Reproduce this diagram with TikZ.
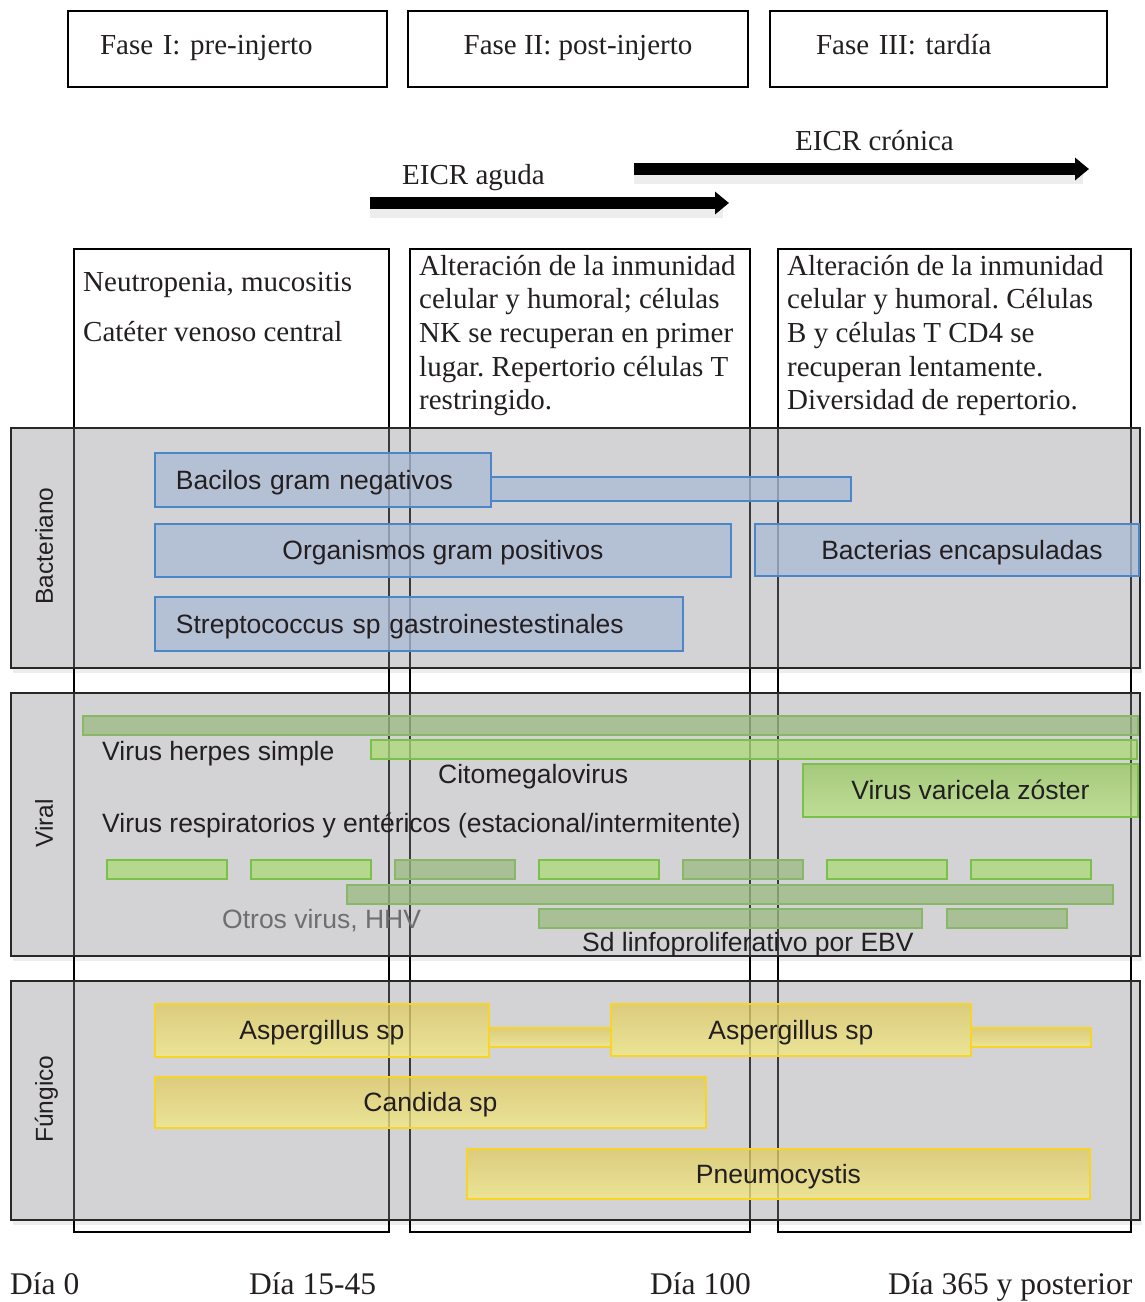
\documentclass[tikz,border=0pt]{standalone}
\usepackage{fontspec}
\setmainfont{Liberation Serif}
\setsansfont{Liberation Sans}
\frenchspacing
\usetikzlibrary{arrows.meta}
\definecolor{txt}{RGB}{35,31,32}
\definecolor{greytxt}{RGB}{110,110,113}
\definecolor{panelfill}{RGB}{145,145,152}
\definecolor{panelline}{RGB}{40,40,40}
\definecolor{bluefill}{RGB}{170,187,213}
\definecolor{bluebd}{RGB}{74,134,200}
\definecolor{greenfill}{RGB}{172,218,119}
\definecolor{greentop}{RGB}{151,199,94}
\definecolor{greenbot}{RGB}{183,226,129}
\definecolor{greenbd}{RGB}{122,193,72}
\definecolor{olivefill}{RGB}{156,185,129}
\definecolor{olivebd}{RGB}{136,183,104}
\definecolor{yeltop}{RGB}{223,202,97}
\definecolor{yelbot}{RGB}{244,234,129}
\definecolor{yelbd}{RGB}{246,212,40}
\newcommand\fser{\fontsize{29}{33.7}\selectfont}
\newcommand\fday{\fontsize{31.5}{36}\selectfont}
\newcommand\fsan{\sffamily\fontsize{26.5}{30}\selectfont}
\newcommand\frot{\sffamily\fontsize{24.5}{28}\selectfont}
\tikzset{
  phasebox/.style={draw=black, line width=2pt, anchor=north west, minimum height=76pt,
    font=\fser, text=txt, text height=19pt, text depth=9pt},
  colbox/.style={draw=black, line width=2pt, anchor=north west, minimum height=983pt, inner sep=0pt},
  panel/.style={draw=panelline, line width=2pt, fill=panelfill, fill opacity=0.4,
    anchor=north west, inner sep=0pt, minimum width=1129pt},
  panelshadow/.style={fill=black, opacity=0.07},
  rotlabel/.style={rotate=90, font=\frot, text=txt, inner sep=0pt, text height=17.5pt, text depth=0pt},
  bar/.style={anchor=north west, inner sep=0pt, line width=1.9pt, fill opacity=0.75,
    text opacity=1, font=\fsan, text=txt, text height=19pt, text depth=0pt},
  bluebar/.style={bar, draw=bluebd, fill=bluefill},
  greenbar/.style={bar, draw=greenbd, fill=greenfill},
  greengrad/.style={bar, draw=greenbd, top color=greentop, bottom color=greenbot},
  olivebar/.style={bar, draw=olivebd, fill=olivefill},
  yelbar/.style={bar, draw=yelbd, top color=yeltop, bottom color=yelbot},
  freetxt/.style={anchor=base west, inner sep=0pt, font=\fsan, text=txt},
  sertxt/.style={anchor=base west, inner sep=0pt, font=\fser, text=txt},
  daytxt/.style={anchor=base west, inner sep=0pt, font=\fday, text=txt},
  eicrarrow/.style={line width=12pt, black, -{Triangle[length=14pt,width=22pt]}},
  eicrshadow/.style={line width=16pt, black, opacity=0.07}
}
\begin{document}
\begin{tikzpicture}[x=1pt,y=-1pt]
\useasboundingbox (0,0) rectangle (1145,1302);

% phase headers
\node[phasebox, minimum width=319pt, inner xsep=32pt, text width=255pt, align=left] (p1) at (67,10) {Fase I: pre-injerto};
\node[phasebox, minimum width=340pt, align=center] (p2) at (407,10) {Fase II: post-injerto};
\node[phasebox, minimum width=337pt, inner xsep=46pt, text width=245pt, align=left] (p3) at (769,10) {Fase III: tardía};

% EICR arrows
\coordinate (a1s) at (370,203);
\coordinate (a1e) at (729,203);
\coordinate (a2s) at (634,169);
\coordinate (a2e) at (1089,169);
\draw[eicrshadow] ([yshift=-7pt]a1s) -- ([yshift=-7pt,xshift=-6pt]a1e);
\draw[eicrshadow] ([yshift=-7pt]a2s) -- ([yshift=-7pt,xshift=-6pt]a2e);
\draw[eicrarrow] (a1s) -- (a1e);
\draw[eicrarrow] (a2s) -- (a2e);
\node[sertxt] (eicra) at (402,184) {EICR aguda};
\node[sertxt] (eicrc) at (795,150) {EICR crónica};

% phase columns
\node[colbox, minimum width=315pt] (c1) at (73,248) {};
\node[colbox, minimum width=340pt] (c2) at (409,248) {};
\node[colbox, minimum width=353pt] (c3) at (777,248) {};
\node[sertxt] (t1) at (83,291.5) {\parbox[t]{300pt}{\fser Neutropenia, mucositis\\[16.3pt]Catéter venoso central}};
\node[sertxt] (t2) at (419,275) {\parbox[t]{330pt}{\fser Alteración de la inmunidad\\celular y humoral; células\\NK se recuperan en primer\\lugar. Repertorio células T\\restringido.}};
\node[sertxt] (t3) at (787,275) {\parbox[t]{345pt}{\fser Alteración de la inmunidad\\celular y humoral. Células\\B y células T CD4 se\\recuperan lentamente.\\Diversidad de repertorio.}};

% soft shadows under the category panels
\fill[panelshadow] (13,668) rectangle (1142,673);
\fill[panelshadow] (13,956) rectangle (1142,961);
\fill[panelshadow] (13,1220) rectangle (1142,1225);

% category panels
\node[panel, minimum height=240pt] (pb) at (10,427) {};
\node[panel, minimum height=263pt] (pv) at (10,692) {};
\node[panel, minimum height=239pt] (pf) at (10,980) {};
\node[rotlabel] (lb) at (44,546) {Bacteriano};
\node[rotlabel] (lv) at (44,823.5) {Viral};
\node[rotlabel] (lf) at (44,1099) {Fúngico};

% bacterial bars
\node[bluebar, minimum width=360pt, minimum height=24pt] (bgnx) at (490,476) {};
\node[bluebar, minimum width=336pt, minimum height=54pt, inner xsep=21pt, text width=294pt, align=left] (bgn) at (154,452) {Bacilos gram negativos};
\node[bluebar, minimum width=576pt, minimum height=53pt] (bgp) at (154,523) {Organismos gram positivos};
\node[bluebar, minimum width=384pt, minimum height=52pt] (benc) at (754,523) {\hspace*{30pt}Bacterias encapsuladas};
\node[bluebar, minimum width=528pt, minimum height=54pt, inner xsep=21pt, text width=486pt, align=left] (bstr) at (154,596) {Streptococcus sp gastroinestestinales};

% viral bars
\node[olivebar, minimum width=1055pt, minimum height=17pt] (vhsv) at (82,715) {};
\node[greenbar, minimum width=766pt, minimum height=16pt] (vcmv) at (370,739) {};
\node[greengrad, minimum width=335pt, minimum height=53pt] (vvzv) at (802,763) {Virus varicela zóster};
\node[greenbar, minimum width=120pt, minimum height=14pt] (d1) at (106,859) {};
\node[greenbar, minimum width=120pt, minimum height=14pt] (d2) at (250,859) {};
\node[olivebar, minimum width=120pt, minimum height=14pt] (d3) at (394,859) {};
\node[greenbar, minimum width=120pt, minimum height=14pt] (d4) at (538,859) {};
\node[olivebar, minimum width=120pt, minimum height=14pt] (d5) at (682,859) {};
\node[greenbar, minimum width=120pt, minimum height=14pt] (d6) at (826,859) {};
\node[greenbar, minimum width=120pt, minimum height=14pt] (d7) at (970,859) {};
\node[olivebar, minimum width=766pt, minimum height=13pt] (vhhv) at (346,884) {};
\node[olivebar, minimum width=383pt, minimum height=13pt] (vebv1) at (538,908) {};
\node[olivebar, minimum width=120pt, minimum height=13pt] (vebv2) at (946,908) {};
\node[freetxt] (thsv) at (102,760) {Virus herpes simple};
\node[freetxt] (tcmv) at (438,783) {Citomegalovirus};
\node[freetxt] (tresp) at (102,832) {Virus respiratorios y entéricos (estacional/intermitente)};
\node[freetxt, text=greytxt] (thhv) at (222,928) {Otros virus, HHV};
\node[freetxt] (tebv) at (582,951) {Sd linfoproliferativo por EBV};

% fungal bars
\node[yelbar, minimum width=122pt, minimum height=14pt] (aspc) at (488,1027) {};
\node[yelbar, minimum width=120pt, minimum height=14pt] (aspt) at (970,1027) {};
\node[yelbar, minimum width=334pt, minimum height=53pt] (asp1) at (154,1003) {Aspergillus sp};
\node[yelbar, minimum width=360pt, minimum height=52pt] (asp2) at (610,1003) {Aspergillus sp};
\node[yelbar, minimum width=551pt, minimum height=51pt] (cand) at (154,1076) {Candida sp};
\node[yelbar, minimum width=623pt, minimum height=50pt] (pneu) at (466,1148) {Pneumocystis};

% day labels
\node[daytxt] (d0) at (10,1294) {Día 0};
\node[daytxt] (d15) at (249,1294) {Día 15-45};
\node[daytxt] (d100) at (650,1294) {Día 100};
\node[daytxt] (d365) at (888,1294) {Día 365 y posterior};
\end{tikzpicture}
\end{document}
